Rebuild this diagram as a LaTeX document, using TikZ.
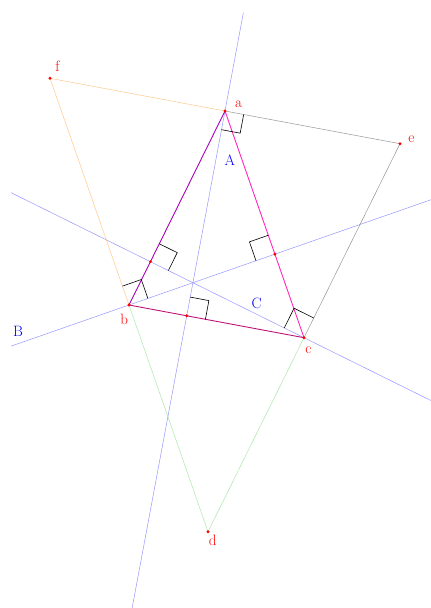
\documentclass[tikz,border=0pt]{standalone}
\usetikzlibrary{calc}
\definecolor{abcol}{RGB}{170,0,190}
\definecolor{accol}{RGB}{255,40,190}
\definecolor{bccol}{RGB}{190,20,120}
\definecolor{altcol}{RGB}{150,150,255}
\definecolor{fcol}{RGB}{255,200,140}
\definecolor{ecol}{RGB}{150,150,150}
\definecolor{dcol}{RGB}{170,230,170}
\newcommand\ramark[4]{% vertex, toward1, toward2, size
  \coordinate (#1r1) at ($(#1)!#4!(#2)$);
  \coordinate (#1r2) at ($(#1)!#4!(#3)$);
  \coordinate (#1rc) at ($(#1r1)+(#1r2)-(#1)$);
  \draw[rmk] (#1r1) -- (#1rc) -- (#1r2);}
\begin{document}
\begin{tikzpicture}[x=1pt,y=-1pt,
  dotst/.style={circle,fill=red,inner sep=0pt,minimum size=3.2pt},
  lab/.style={text=red,anchor=base,inner sep=0pt,font=\fontsize{15}{15}\selectfont},
  blab/.style={lab,text=blue},
  alt/.style={draw=altcol,line width=0.5pt},
  fline/.style={draw=fcol,line width=0.5pt},
  eline/.style={draw=ecol,line width=0.5pt},
  dline/.style={draw=dcol,line width=0.5pt},
  side/.style={line width=0.9pt},
  rmk/.style={draw=black,line width=0.6pt}]
\clip (0,0) rectangle (431,608);
\coordinate (a) at (225,111);
\coordinate (b) at (129,305);
\coordinate (c) at (304,337.7);
\coordinate (d) at ($(b)+(c)-(a)$);
\coordinate (e) at ($(a)+(c)-(b)$);
\coordinate (f) at ($(a)+(b)-(c)$);
\coordinate (ha) at ($(b)!(a)!(c)$);
\coordinate (hb) at ($(a)!(b)!(c)$);
\coordinate (hc) at ($(a)!(c)!(b)$);
% altitude line ends
\coordinate (A1) at ($(a)!-100pt!(ha)$);
\coordinate (A2) at ($(a)!540pt!(ha)$);
\coordinate (B1) at ($(b)!-125pt!(hb)$);
\coordinate (B2) at ($(b)!420pt!(hb)$);
\coordinate (C1) at ($(c)!327pt!(hc)$);
\coordinate (C2) at ($(c)!-200pt!(hc)$);
\draw[alt] (A1) -- (A2);
\draw[alt] (B1) -- (B2);
\draw[alt] (C1) -- (C2);
% anticomplementary triangle
\draw[fline] (f) -- (a);
\draw[fline] (f) -- (b);
\draw[eline] (a) -- (e);
\draw[eline] (e) -- (c);
\draw[dline] (b) -- (d);
\draw[dline] (d) -- (c);
% triangle
\draw[side,abcol] (a) -- (b);
\draw[side,accol] (a) -- (c);
\draw[side,bccol] (b) -- (c);
% right angle marks
\ramark{a}{e}{ha}{19pt}
\ramark{b}{f}{hb}{20pt}
\ramark{c}{e}{hc}{22pt}
\ramark{hc}{a}{c}{20pt}
\ramark{hb}{a}{b}{20pt}
\ramark{ha}{c}{a}{19pt}
% dots
\foreach \p in {a,b,c,d,e,f,ha,hb,hc}
  \node[dotst] (dot\p) at (\p) {};
% labels
\node[lab] (la) at (238.5,107.7) {a};
\node[lab] (lb) at (124.2,324.3) {b};
\node[lab] (lc) at (308.3,353.3) {c};
\node[lab] (ld) at (212.8,545.7) {d};
\node[lab] (le) at (411.3,142.3) {e};
\node[lab] (lf) at (57.5,71) {f};
\node[blab] (lA) at (229.7,165.3) {A};
\node[blab] (lB) at (18,336) {B};
\node[blab] (lC) at (256.7,308.3) {C};
\end{tikzpicture}
\end{document}
